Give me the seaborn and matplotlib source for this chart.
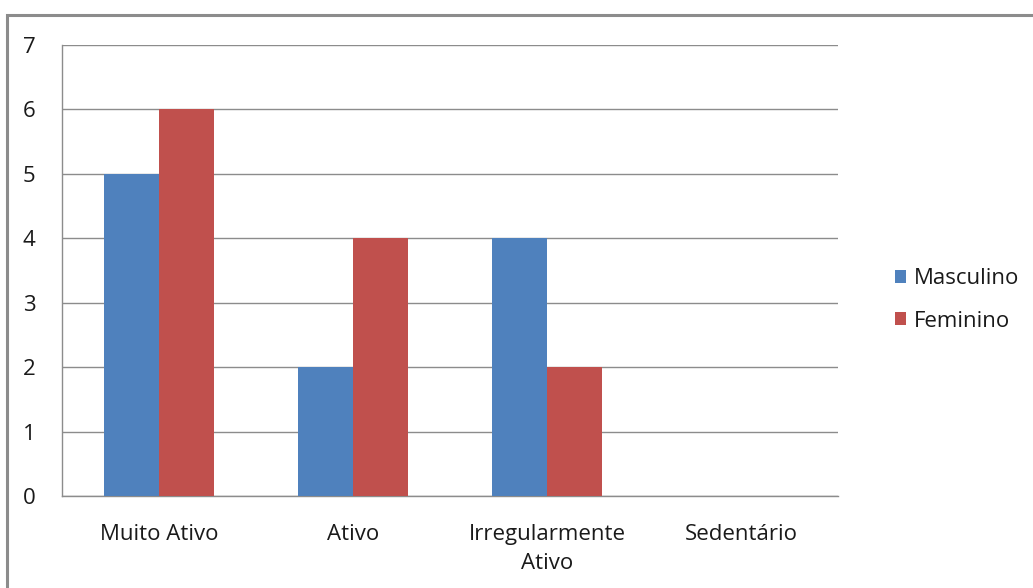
import matplotlib
matplotlib.use("Agg")
import matplotlib.pyplot as plt
from matplotlib.patches import Rectangle, Patch
import seaborn as sns
import pandas as pd

categories = ["Muito Ativo", "Ativo", "Irregularmente\nAtivo", "Sedentário"]
masculino = [5, 2, 4, 0]
feminino = [6, 4, 2, 0]
series_names = ["Masculino", "Feminino"]
colors = ["#4F81BD", "#C0504D"]
y_ticks = [0, 1, 2, 3, 4, 5, 6, 7]

df = pd.DataFrame({
    "categoria": categories * 2,
    "valor": masculino + feminino,
    "sexo": [series_names[0]] * len(categories) + [series_names[1]] * len(categories),
})

sns.set_style("white")
plt.rcParams["font.family"] = ["Open Sans", "DejaVu Sans"]

FS = 16
TXT = "#1A1A1A"
AX = "#8C8C8C"

fig = plt.figure(figsize=(10.33, 5.88), dpi=100)
ax = fig.add_axes([62 / 1033, 1 - 496 / 588, (838 - 62) / 1033, (496 - 45) / 588])

sns.barplot(data=df, x="categoria", y="valor", hue="sexo", palette=colors,
            width=0.57, gap=0, saturation=1, linewidth=0, ax=ax,
            legend=False, zorder=3)

ax.set_ylim(0, 7)
ax.set_xlim(-0.5, len(categories) - 0.5)
ax.set_yticks(y_ticks)
ax.set_xlabel("")
ax.set_ylabel("")
ax.yaxis.grid(True, color=AX, linewidth=1.0, zorder=0)
ax.set_axisbelow(True)

for side in ["top", "right"]:
    ax.spines[side].set_visible(False)
for side in ["left", "bottom"]:
    ax.spines[side].set_color(AX)
    ax.spines[side].set_linewidth(1.0)

# category labels centered, ticks on category boundaries
ax.set_xticks(range(len(categories)))
ax.set_xticklabels(categories, fontsize=FS, color=TXT, linespacing=1.5)
ax.tick_params(axis="x", length=0, pad=20)
ax.set_xticks([i - 0.5 for i in range(len(categories) + 1)], minor=True)
ax.tick_params(axis="x", which="minor", length=8, color=AX, width=1, direction="out")
ax.tick_params(axis="y", length=7, color=AX, width=1, direction="out",
               labelsize=FS, labelcolor=TXT, pad=12)

handles = [Patch(facecolor=c, edgecolor="none", label=n) for c, n in zip(colors, series_names)]
fig.legend(handles=handles, loc="center left", bbox_to_anchor=(875 / 1033, 1 - 300 / 588),
           frameon=False, fontsize=FS, handlelength=0.5, handleheight=0.5,
           handletextpad=0.35, labelspacing=0.95, labelcolor=TXT)

fig.patches.append(Rectangle((7 / 1033, -0.1), 1.2, 1 - 15 / 588 + 0.1,
                             transform=fig.transFigure, fill=False,
                             edgecolor=AX, linewidth=2.2))

fig.savefig("out.png", dpi=100)
